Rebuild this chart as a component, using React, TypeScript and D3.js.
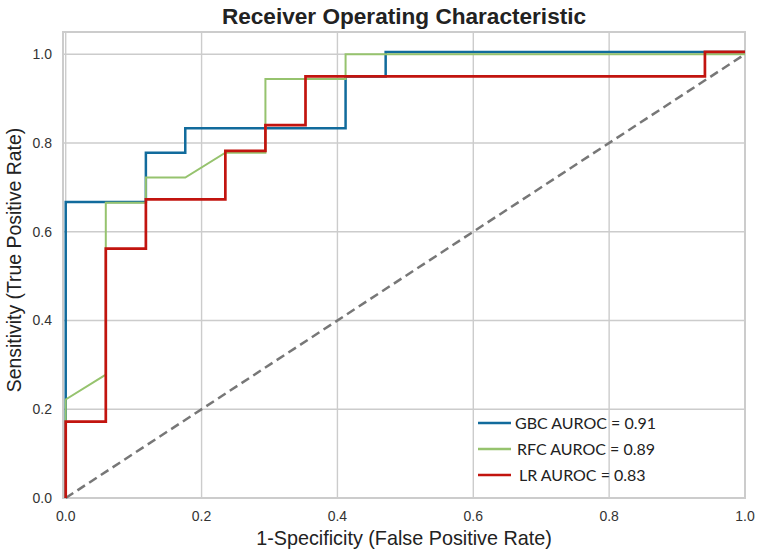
import React from "react";
import * as d3 from "d3";

const xTicks = [0, 0.2, 0.4, 0.6, 0.8, 1.0];
const yTicks = [0, 0.2, 0.4, 0.6, 0.8, 1.0];

const gbcFpr = [0, 0, 0.118, 0.118, 0.176, 0.176, 0.412, 0.412, 0.471, 0.471, 1.0];
const gbcTpr = [0, 0.667, 0.667, 0.778, 0.778, 0.833, 0.833, 0.95, 0.95, 1.005, 1.005];

const rfcFpr = [0, 0, 0.059, 0.059, 0.118, 0.118, 0.176, 0.235, 0.294, 0.294, 0.412, 0.412, 1.0];
const rfcTpr = [0, 0.222, 0.278, 0.665, 0.665, 0.722, 0.722, 0.778, 0.778, 0.944, 0.944, 1.0, 1.0];

const lrFpr = [0, 0, 0.059, 0.059, 0.118, 0.118, 0.235, 0.235, 0.294, 0.294, 0.353, 0.353, 0.941, 0.941, 1.0];
const lrTpr = [0, 0.172, 0.172, 0.562, 0.562, 0.673, 0.673, 0.782, 0.782, 0.84, 0.84, 0.95, 0.95, 1.005, 1.005];

const seriesNames = ["GBC AUROC = 0.91", "RFC AUROC = 0.89", "LR AUROC = 0.83"];
const seriesColors = ["#116b9c", "#96c36e", "#c2140f"];
const seriesWidths = [2.5, 2, 2.7];

export default function App() {
  const W = 759, H = 553;
  const L = 63, R = 745, T = 32, B = 498;
  const x = d3.scaleLinear().domain([-0.004, 1.0]).range([L, R]);
  const y = d3.scaleLinear().domain([0, 1.05]).range([B, T]);
  const series = [
    { fpr: gbcFpr, tpr: gbcTpr },
    { fpr: rfcFpr, tpr: rfcTpr },
    { fpr: lrFpr, tpr: lrTpr },
  ];
  const pathFor = (fpr: number[], tpr: number[]) =>
    d3.line<number>().x((i) => x(fpr[i])).y((i) => y(tpr[i]))(fpr.map((_, i) => i)) || "";
  const font = "'Liberation Sans', Arial, sans-serif";
  const legendFont = "Lato, 'Open Sans', sans-serif";
  return (
    <svg width={W} height={H} style={{ position: "fixed", left: 0, top: 0, background: "#fff" }} fontFamily={font}>
      <rect x={0} y={0} width={W} height={H} fill="#fff" />
      {xTicks.map((t) => (
        <line key={"gx" + t} x1={x(t)} x2={x(t)} y1={T} y2={B} stroke="#cccccc" strokeWidth={1.4} />
      ))}
      {yTicks.map((t) => (
        <line key={"gy" + t} x1={L} x2={R} y1={y(t)} y2={y(t)} stroke="#cccccc" strokeWidth={1.4} />
      ))}
      <rect x={L} y={T} width={R - L} height={B - T} fill="none" stroke="#cccccc" strokeWidth={2} />
      <line x1={x(0)} y1={y(0)} x2={x(1)} y2={y(1)} stroke="#777777" strokeWidth={2.5} strokeDasharray="9,5" />
      {series.map((s, i) => (
        <path key={i} d={pathFor(s.fpr, s.tpr)} fill="none" stroke={seriesColors[i]} strokeWidth={seriesWidths[i]} />
      ))}
      {xTicks.map((t) => (
        <text key={"tx" + t} x={x(t)} y={521} textAnchor="middle" fontSize={14} fill="#333">
          {t.toFixed(1)}
        </text>
      ))}
      {yTicks.map((t) => (
        <text key={"ty" + t} x={52} y={y(t) + 5} textAnchor="end" fontSize={14} fill="#333">
          {t.toFixed(1)}
        </text>
      ))}
      <text x={(L + R) / 2} y={24} textAnchor="middle" fontSize={22.6} fontWeight="bold" fill="#222">
        Receiver Operating Characteristic
      </text>
      <text x={(L + R) / 2} y={545} textAnchor="middle" fontSize={19.8} fill="#222">
        1-Specificity (False Positive Rate)
      </text>
      <text transform={`translate(21,260) rotate(-90)`} textAnchor="middle" fontSize={19.4} fill="#222">
        Sensitivity (True Positive Rate)
      </text>
      {seriesNames.map((n, i) => (
        <g key={n} transform={`translate(478,${423 + i * 26})`}>
          <line x1={0} x2={33} y1={0} y2={0} stroke={seriesColors[i]} strokeWidth={2.5} />
          <text x={37 + i * 2} y={6} fontSize={16} fill="#222" fontFamily={legendFont}>
            {n}
          </text>
        </g>
      ))}
    </svg>
  );
}
